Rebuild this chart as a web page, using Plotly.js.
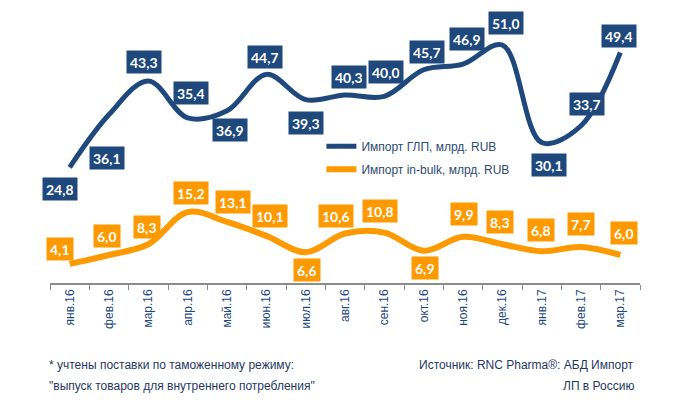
<!DOCTYPE html>
<html>
<head>
<meta charset="utf-8">
<script src="https://cdn.plot.ly/plotly-3.0.1.min.js"></script>
<style>html,body{margin:0;padding:0;background:#fff;}#chart{width:677px;height:415px;}</style>
</head>
<body>
<div id="chart"></div>
<script>
// ---- data ----
const months = ["янв.16","фев.16","мар.16","апр.16","май.16","июн.16","июл.16","авг.16","сен.16","окт.16","ноя.16","дек.16","янв.17","фев.17","мар.17"];
const importGLP = [24.8,36.1,43.3,35.4,36.9,44.7,39.3,40.3,40.0,45.7,46.9,51.0,30.1,33.7,49.4];
const importBulk = [4.1,6.0,8.3,15.2,13.1,10.1,6.6,10.6,10.8,6.9,9.9,8.3,6.8,7.7,6.0];
const seriesNames = ["Импорт ГЛП, млрд. RUB","Импорт in-bulk, млрд. RUB"];

// ---- label placement (pixel offsets from point: dx right, dy down) ----
const glpOffsets = [[-10,22],[-2,43],[-4,-19],[3,-25],[3,19],[-1,-17],[0,23],[4,-18],[2,-24],[3,-18],[4,-25],[4,-22],[7,22],[6,-22],[-1,-16]];
const bulkOffsets = [[-10,-15],[-2,-19],[-1,-17],[3,-19],[6,-20],[4,-20],[1,18],[-9,-18],[-4,-22],[1,17],[1,-23],[-2,-22],[-1,-21],[0,-23],[4,-22]];

const BLUE = "#1F497D";
const ORANGE = "#FF9900";
const fmt = v => v.toFixed(1).replace(".", ",");

function labels(vals, offs, color) {
  return vals.map((v, i) => ({
    x: months[i], y: v, xref: "x", yref: "y",
    text: "<b>" + fmt(v) + "</b>", showarrow: false,
    xshift: offs[i][0], yshift: -offs[i][1],
    bgcolor: color, borderpad: 3, height: 16,
    font: {family: "Lato, 'Liberation Sans', sans-serif", size: 14, color: "#ffffff"}
  }));
}

const traces = [
  {x: months, y: importGLP, name: seriesNames[0], type: "scatter", mode: "lines",
   line: {color: BLUE, width: 5, shape: "spline", smoothing: 1}, legendgroup: "a", hoverinfo: "skip"},
  {x: months, y: importBulk, name: seriesNames[1], type: "scatter", mode: "lines",
   line: {color: ORANGE, width: 6, shape: "spline", smoothing: 1}, legendgroup: "b", hoverinfo: "skip"}
];

const footFont = {family: "'Liberation Sans', Arial, sans-serif", size: 12, color: "#1F3864"};
const annotations = [].concat(
  labels(importGLP, glpOffsets, BLUE),
  labels(importBulk, bulkOffsets, ORANGE),
  [
    {xref: "paper", yref: "paper", x: -0.005, y: -0.293, xanchor: "left", yanchor: "middle", showarrow: false,
     text: "* учтены поставки по таможенному режиму:", font: footFont},
    {xref: "paper", yref: "paper", x: -0.005, y: -0.368, xanchor: "left", yanchor: "middle", showarrow: false,
     text: "\"выпуск товаров для внутреннего потребления\"", font: footFont},
    {xref: "paper", yref: "paper", x: 0.993, y: -0.293, xanchor: "right", yanchor: "middle", showarrow: false,
     text: "Источник: RNC Pharma®: АБД Импорт", font: footFont},
    {xref: "paper", yref: "paper", x: 0.993, y: -0.368, xanchor: "right", yanchor: "middle", showarrow: false,
     text: "ЛП в Россию", font: footFont}
  ]
);

const layout = {
  width: 677, height: 415,
  margin: {l: 50, r: 37, t: 3, b: 132},
  paper_bgcolor: "#ffffff", plot_bgcolor: "#ffffff",
  showlegend: true,
  legend: {x: 0.46, y: 0.54, xanchor: "left", yanchor: "top", bgcolor: "rgba(0,0,0,0)",
           font: {family: "'Liberation Sans', Arial, sans-serif", size: 12, color: "#2F4A70"},
           tracegroupgap: 4, traceorder: "grouped"},
  xaxis: {type: "category", range: [-0.5, 14.5], tickson: "boundaries", ticks: "outside", ticklen: 5,
          tickcolor: "#8c8c8c", showline: true, linecolor: "#8c8c8c", linewidth: 1.5, showgrid: false,
          zeroline: false, tickangle: -90, fixedrange: true,
          tickfont: {family: "'Liberation Sans', Arial, sans-serif", size: 12, color: "#1F497D"}},
  yaxis: {range: [0, 60], visible: false, showgrid: false, zeroline: false, fixedrange: true},
  annotations: annotations
};

Plotly.newPlot("chart", traces, layout, {displayModeBar: false, staticPlot: true});
</script>
</body>
</html>
